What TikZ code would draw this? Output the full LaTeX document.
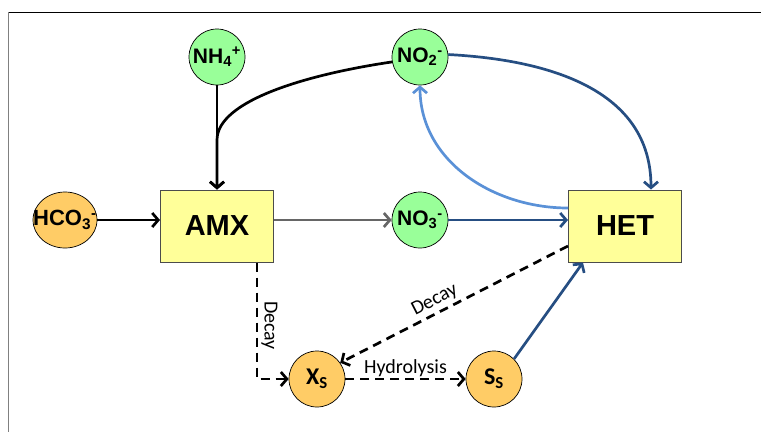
\documentclass[tikz,border=0pt]{standalone}
\usepackage{fontspec}
\setmainfont{Carlito}
\newfontfamily\arialfont{Liberation Sans}
\usetikzlibrary{arrows.meta, shapes.geometric, calc}
\definecolor{ionGreen}{RGB}{153,255,153}
\definecolor{subOrange}{RGB}{255,204,102}
\definecolor{boxYellow}{RGB}{255,255,153}
\definecolor{hetBlue}{RGB}{38,78,130}
\definecolor{backBlue}{RGB}{90,145,215}
\newcommand{\ionlabel}[3]{#1\textsubscript{#2}\textsuperscript{#3}}

\begin{document}
\begin{tikzpicture}[x = 1pt, y = -1pt,
    ion/.style = {circle, draw = black, line width = 0.7pt, fill = ionGreen, minimum size = 56pt, inner sep = 0pt, font = \arialfont\bfseries\fontsize{21}{21}\selectfont},
    sub/.style = {circle, draw = black, line width = 0.7pt, fill = subOrange, minimum size = 56pt, inner sep = 0pt, font = \bfseries\fontsize{24}{24}\selectfont},
    bug/.style = {rectangle, draw = black!70, line width = 1pt, fill = boxYellow, minimum width = 113pt, minimum height = 72pt, font = \arialfont\bfseries\fontsize{29}{29}\selectfont},
    flow/.style = {line width = 2.7pt, -{Straight Barb[length = 6pt, width = 14pt, line width = 2.7pt]}},
    lbl/.style = {font = \fontsize{20}{20}\selectfont, inner sep = 3pt}
    ]
            \useasboundingbox (0, 0) rectangle (761, 432);
            \draw[black, line width = 1pt](8, 12) -- (761, 12);
            \draw[gray, line width = 1pt](8, 12) -- (8, 432);
            
            \node[bug] (amx) at (217, 226) {AMX};
            \node[bug] (het) at (625, 226) {HET};
            
            \node[ion] (nh4) at (217, 57) {\ionlabel{NH}{4}{+}};
            \node[ion] (no2) at (420, 57) {\ionlabel{NO}{2}{-}};
            \node[ion] (no3) at (420, 220) {\ionlabel{NO}{3}{-}};
            \node[sub, ellipse, minimum width = 64pt, minimum height = 56pt, label = {[font = \arialfont\bfseries\fontsize{22}{22}\selectfont]center:\ionlabel{HCO}{3}{-}}] (hco3) at (65, 220) {};
            \node[sub] (xs) at (317, 379) {X\textsubscript{S}};
            \node[sub] (ss) at (494, 379) {S\textsubscript{S}};
            
            \coordinate (join) at (217, 140);
            
            % feed to AMX
            \draw[flow](nh4.south) -- (amx.north);
            \draw[flow](no2.190) .. controls +(-82, 12) and +(0, -40) .. (join) -- (amx.north);
            \draw[flow](hco3.east) -- (hco3.east -| amx.west);
            \draw[flow, black!60](amx.east |- no3) -- (no3.west);
            
            % HET loop
            \draw[flow, hetBlue](no3.east) -- (no3 -| het.west);
            \draw[flow, hetBlue](no2.5) to[out = -3, in = 90, looseness = 1.05] ([xshift = 26pt]het.north);
            \draw[flow, backBlue]([yshift = 18pt]het.west) to[out = 180, in = -90] (no2.south);
            \draw[flow, hetBlue](ss.45) -- ([xshift = 15pt]het.south west);
            
            % decay and hydrolysis
            \draw[flow, dash pattern = on 9pt off 6pt]([xshift = 40pt]amx.south) |- (xs.west) node[lbl, pos = 0.27, sloped, above] {Decay};
            \draw[flow, dash pattern = on 9pt off 6pt]([yshift = -20pt]het.west) -- (xs.35) node[lbl, pos = 0.56, sloped, above] {Decay};
            \draw[flow, dash pattern = on 9pt off 6pt](xs.east) -- (ss.west) node[lbl, midway, above, inner sep = 1pt] {Hydrolysis};
            
        \end{tikzpicture}
\end{document}
